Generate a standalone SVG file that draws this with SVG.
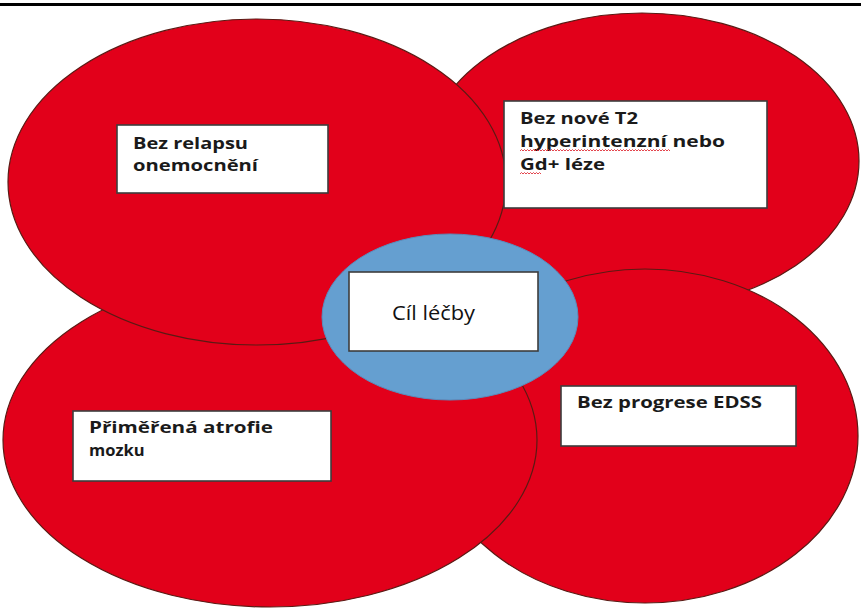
<svg xmlns="http://www.w3.org/2000/svg" width="861" height="608" viewBox="0 0 861 608">
<style>
.red{fill:#E2001A;stroke:#5a1a14;stroke-width:1.2}
.blue{fill:#659FD0;stroke:#5a8cbc;stroke-width:1}
.box{fill:#ffffff;stroke:#3d3d3d;stroke-width:1.6}
.lbl{font-family:"Open Sans","Noto Sans","Liberation Sans",sans-serif;font-weight:bold;font-size:16.5px;fill:#1a1a1a}
.ctr{font-family:"Open Sans","Noto Sans","Liberation Sans",sans-serif;font-size:20.5px;fill:#111}
.sq{fill:none;stroke:#e0303a;stroke-width:0.9}
</style>
<rect x="0" y="0" width="861" height="608" fill="#ffffff"/>
<rect x="0" y="3" width="861" height="3" fill="#000000"/>
<g id="shapes">
<ellipse id="ell-top-right" class="red" cx="642" cy="161" rx="217" ry="148"/>
<ellipse id="ell-bottom-right" class="red" cx="645" cy="436" rx="213" ry="167"/>
<ellipse id="ell-bottom-left" class="red" cx="270" cy="440" rx="267" ry="167"/>
<ellipse id="ell-top-left" class="red" cx="257" cy="182" rx="249" ry="163"/>
</g>
<g id="center">
<ellipse class="blue" cx="450" cy="317" rx="128" ry="83"/>
<rect class="box" x="349" y="272" width="189" height="79"/>
<text class="ctr" x="392" y="320" textLength="83" lengthAdjust="spacingAndGlyphs">Cíl léčby</text>
</g>
<g id="node-relaps">
<rect class="box" x="117" y="125" width="211" height="68"/>
<text class="lbl" x="133" y="149" textLength="115" lengthAdjust="spacingAndGlyphs">Bez relapsu</text>
<text class="lbl" x="133" y="171" textLength="125" lengthAdjust="spacingAndGlyphs">onemocnění</text>
</g>
<g id="node-t2">
<rect class="box" x="504" y="101" width="263" height="107"/>
<text class="lbl" x="520" y="124" textLength="118" lengthAdjust="spacingAndGlyphs">Bez nové T2</text>
<text class="lbl" x="520" y="147" textLength="205" lengthAdjust="spacingAndGlyphs">hyperintenzní nebo</text>
<text class="lbl" x="520" y="170" textLength="85" lengthAdjust="spacingAndGlyphs">Gd+ léze</text>
<path class="sq" d="M520 151 l1.5 -1.5 l1.5 1.5 l1.5 -1.5 l1.5 1.5 l1.5 -1.5 l1.5 1.5 l1.5 -1.5 l1.5 1.5 l1.5 -1.5 l1.5 1.5 l1.5 -1.5 l1.5 1.5 l1.5 -1.5 l1.5 1.5 l1.5 -1.5 l1.5 1.5 l1.5 -1.5 l1.5 1.5 l1.5 -1.5 l1.5 1.5 l1.5 -1.5 l1.5 1.5 l1.5 -1.5 l1.5 1.5 l1.5 -1.5 l1.5 1.5 l1.5 -1.5 l1.5 1.5 l1.5 -1.5 l1.5 1.5 l1.5 -1.5 l1.5 1.5 l1.5 -1.5 l1.5 1.5 l1.5 -1.5 l1.5 1.5 l1.5 -1.5 l1.5 1.5 l1.5 -1.5 l1.5 1.5 l1.5 -1.5 l1.5 1.5 l1.5 -1.5 l1.5 1.5 l1.5 -1.5 l1.5 1.5 l1.5 -1.5 l1.5 1.5 l1.5 -1.5 l1.5 1.5 l1.5 -1.5 l1.5 1.5 l1.5 -1.5 l1.5 1.5 l1.5 -1.5 l1.5 1.5 l1.5 -1.5 l1.5 1.5 l1.5 -1.5 l1.5 1.5 l1.5 -1.5 l1.5 1.5 l1.5 -1.5 l1.5 1.5 l1.5 -1.5 l1.5 1.5 l1.5 -1.5 l1.5 1.5 l1.5 -1.5 l1.5 1.5 l1.5 -1.5 l1.5 1.5 l1.5 -1.5 l1.5 1.5 l1.5 -1.5 l1.5 1.5 l1.5 -1.5 l1.5 1.5 l1.5 -1.5 l1.5 1.5 l1.5 -1.5 l1.5 1.5 l1.5 -1.5 l1.5 1.5 l1.5 -1.5 l1.5 1.5 l1.5 -1.5 l1.5 1.5 l1.5 -1.5 l1.5 1.5 l1.5 -1.5 l1.5 1.5 l1.5 -1.5 l1.5 1.5 l1.5 -1.5 l1.5 1.5 l1.5 -1.5 l1.5 1.5 l1.5 -1.5 l1.5 1.5"/>
<path class="sq" d="M520 174 l1.5 -1.5 l1.5 1.5 l1.5 -1.5 l1.5 1.5 l1.5 -1.5 l1.5 1.5 l1.5 -1.5 l1.5 1.5 l1.5 -1.5 l1.5 1.5 l1.5 -1.5 l1.5 1.5 l1.5 -1.5 l1.5 1.5"/>
</g>
<g id="node-atrofie">
<rect class="box" x="73" y="411" width="258" height="70"/>
<text class="lbl" x="89" y="433" textLength="184" lengthAdjust="spacingAndGlyphs">Přiměřená atrofie</text>
<text class="lbl" x="89" y="456">mozku</text>
</g>
<g id="node-edss">
<rect class="box" x="561" y="386" width="235" height="60"/>
<text class="lbl" x="577" y="408" textLength="185" lengthAdjust="spacingAndGlyphs">Bez progrese EDSS</text>
</g>
<g id="connectors"></g>
</svg>
